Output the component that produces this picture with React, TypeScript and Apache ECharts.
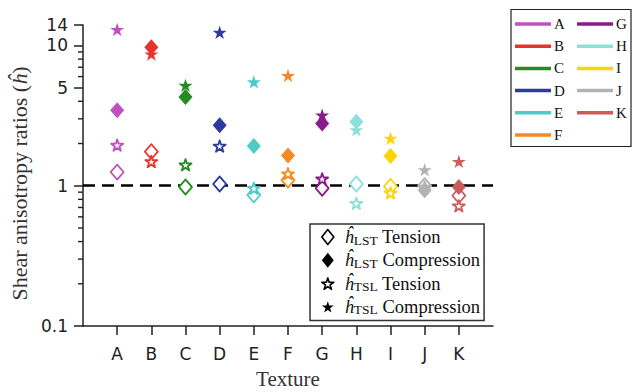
import React, { useEffect, useRef } from 'react';
import * as echarts from 'echarts';

// ---------- data ----------
const textures = ['A', 'B', 'C', 'D', 'E', 'F', 'G', 'H', 'I', 'J', 'K'];
const textureColors = ['#c04fc0', '#e8332b', '#228b22', '#2e3b9e', '#4ecbc4', '#f58a22', '#8b1b8b', '#8ddfda', '#fed400', '#b3b3b3', '#cd5b5b'];
const lstTension = [1.25, 1.75, 0.98, 1.03, 0.86, 1.1, 0.96, 1.03, 0.99, 1.0, 0.85];
const lstCompression = [3.46, 9.7, 4.3, 2.7, 1.92, 1.64, 2.78, 2.86, 1.63, 0.93, 0.98];
const tslTension = [1.95, 1.49, 1.41, 1.92, 0.96, 1.22, 1.12, 0.75, 0.89, 0.98, 0.72];
const tslCompression = [13.0, 8.7, 5.2, 12.4, 5.5, 6.1, 3.19, 2.5, 2.18, 1.3, 1.49];
const padStart = 'pad-start';
const padEnd = 'pad-end';
const xCategories = [padStart, ...textures, padEnd];
const yMin = 0.1;
const yMax = 14;
const yMajorTicks = [0.1, 1, 5, 10, 14];
const yMajorLabels = ['0.1', '1', '5', '10', '14'];
const yMinorTicks = [0.2, 0.3, 0.4, 0.5, 0.6, 0.7, 0.8, 0.9, 2, 3, 4, 6, 7, 8, 9];
const referenceValue = 1;

const SERIF = "'Liberation Serif', 'DejaVu Serif', serif";
const SANS = "'DejaVu Sans', sans-serif";
const STAR = 'path://M0,-100L-22.45,-30.9L-95.1,-30.9L-36.33,11.8L-58.8,80.9L0,38.2L58.8,80.9L36.33,11.8L95.1,-30.9L22.45,-30.9Z';

const markerTypes = [
  { name: 'LST Tension', values: lstTension, symbol: 'diamond', open: true, size: [13, 15], sub: 'LST', label: 'Tension' },
  { name: 'TSL Tension', values: tslTension, symbol: STAR, open: true, size: 12, sub: 'TSL', label: 'Tension' },
  { name: 'LST Compression', values: lstCompression, symbol: 'diamond', open: false, size: [14, 16], sub: 'LST', label: 'Compression' },
  { name: 'TSL Compression', values: tslCompression, symbol: STAR, open: false, size: 14, sub: 'TSL', label: 'Compression' },
];
const legendOrder = ['LST Tension', 'LST Compression', 'TSL Tension', 'TSL Compression'];

export default function App() {
  const ref = useRef<HTMLDivElement>(null);
  useEffect(() => {
    if (!ref.current) return;
    const chart = echarts.init(ref.current, undefined, { renderer: 'svg' });

    const dataSeries: any[] = markerTypes.map((m, si) => ({
      name: m.name,
      type: 'scatter',
      z: 10,
      symbol: m.symbol,
      symbolSize: m.size,
      symbolKeepAspect: true,
      itemStyle: m.open
        ? { color: '#fff', borderColor: '#000', borderWidth: 1.8, borderJoin: 'round', opacity: 1 }
        : { color: '#000', borderWidth: 0, opacity: 1 },
      emphasis: { disabled: true },
      data: m.values.map((v, i) => ({
        value: [textures[i], v],
        itemStyle: m.open
          ? { color: '#fff', borderColor: textureColors[i], borderWidth: 1.8, borderJoin: 'round', opacity: 1 }
          : { color: textureColors[i], opacity: 1 },
      })),
      markLine: si === 0 ? {
        silent: true,
        symbol: ['none', 'none'],
        label: { show: false },
        lineStyle: { color: '#000', type: [12, 7], width: 2.5, opacity: 1 },
        data: [{ yAxis: referenceValue }],
      } : undefined,
    }));

    const colorSeries: any[] = textures.map((t, i) => ({
      name: t,
      type: 'scatter',
      data: [],
      itemStyle: { color: textureColors[i], opacity: 1 },
    }));

    // minor y-axis ticks: short horizontal marks at the axis (first category slot), placed through the log scale
    const minorTickSeries: any = {
      name: 'y minor ticks',
      type: 'scatter',
      silent: true,
      clip: false,
      z: 20,
      symbol: 'rect',
      symbolSize: [5, 1.4],
      symbolOffset: [-2.5, 0],
      itemStyle: { color: '#222', opacity: 1 },
      emphasis: { disabled: true },
      data: yMinorTicks.map((v) => [padStart, v]),
    };

    const majorFormatter = (v: number) => {
      let best = 0;
      yMajorTicks.forEach((t, i) => {
        if (Math.abs(Math.log(t) - Math.log(v)) < Math.abs(Math.log(yMajorTicks[best]) - Math.log(v))) best = i;
      });
      return yMajorLabels[best];
    };

    const inner = (i: number) => i > 0 && i < xCategories.length - 1;

    const colorLegend = (names: string[], left: number) => ({
      show: true,
      orient: 'vertical',
      left,
      top: 15,
      padding: 0,
      itemGap: 4.2,
      itemWidth: 36,
      itemHeight: 3.5,
      icon: 'rect',
      selectedMode: false,
      data: names,
      itemStyle: { opacity: 1 },
      textStyle: { fontFamily: SERIF, fontSize: 15, lineHeight: 18, color: '#111', padding: [0, 0, 0, -2] },
    });

    const option: any = {
      animation: false,
      backgroundColor: '#fff',
      grid: { left: 83, right: 140, top: 25, bottom: 66, containLabel: false, outerBoundsMode: 'none' },
      xAxis: {
        type: 'category',
        data: xCategories,
        boundaryGap: false,
        axisLine: { onZero: false, lineStyle: { color: '#222', width: 1.5 } },
        axisTick: { show: true, length: 9, interval: inner, lineStyle: { color: '#222', width: 1.5 } },
        axisLabel: { interval: inner, margin: 19, fontFamily: SANS, fontSize: 17, color: '#222' },
        splitLine: { show: false },
        name: 'Texture',
        nameLocation: 'middle',
        nameGap: 42,
        nameTextStyle: { fontFamily: SERIF, fontSize: 21, color: '#333' },
      },
      yAxis: {
        type: 'log',
        logBase: 10,
        min: yMin,
        max: yMax,
        position: 'left',
        axisLine: { show: true, onZero: false, lineStyle: { color: '#222', width: 1.5 } },
        axisTick: { show: true, length: 9, customValues: yMajorTicks, lineStyle: { color: '#222', width: 1.5 } },
        axisLabel: { show: true, customValues: yMajorTicks, formatter: majorFormatter, margin: 15, fontFamily: SANS, fontSize: 17, color: '#222' },
        minorTick: { show: false },
        splitLine: { show: false },
        name: '{a|Shear anisotropy ratios (}{i|ĥ}{a|)}{p| }',
        nameLocation: 'middle',
        nameRotate: 90,
        nameGap: 52,
        nameTextStyle: {
          fontFamily: SERIF, fontSize: 22, color: '#333',
          rich: {
            a: { fontFamily: SERIF, fontSize: 22, color: '#333' },
            i: { fontFamily: SERIF, fontSize: 22, color: '#333', fontStyle: 'italic' },
            p: { fontFamily: SERIF, fontSize: 22, width: 16 },
          },
        },
      },
      legend: [
        {
          show: true,
          orient: 'vertical',
          left: 310,
          top: 224,
          padding: [3.5, 4, 3.5, 11],
          itemGap: 3.8,
          itemWidth: 12,
          itemHeight: 15,
          selectedMode: false,
          borderColor: '#333',
          borderWidth: 1.5,
          backgroundColor: '#fff',
          data: legendOrder.map((n) => {
            const m = markerTypes.find((x) => x.name === n)!;
            const isStar = m.symbol === STAR;
            return {
              name: n,
              icon: isStar ? STAR : 'diamond',
              itemStyle: m.open
                ? { color: '#fff', borderColor: '#000', borderWidth: 1.6, borderJoin: 'round', opacity: 1 }
                : { color: '#000', borderWidth: 0, opacity: 1 },
            };
          }),
          formatter: (name: string) => {
            const m = markerTypes.find((x) => x.name === name)!;
            return `{h|ĥ}{s|${m.sub}}{t| ${m.label}}`;
          },
          textStyle: {
            fontFamily: SERIF, fontSize: 18, color: '#111',
            rich: {
              h: { fontFamily: SERIF, fontSize: 18, lineHeight: 20, fontStyle: 'italic', color: '#111', padding: [0, 0, 0, 6] },
              s: { fontFamily: SERIF, fontSize: 13.5, lineHeight: 13, verticalAlign: 'bottom', color: '#111' },
              t: { fontFamily: SERIF, fontSize: 18.5, lineHeight: 20, color: '#111' },
            },
          },
        },
        colorLegend(textures.slice(0, 6), 515),
        colorLegend(textures.slice(6), 577),
      ],
      graphic: [
        {
          type: 'rect',
          shape: { x: 511, y: 9.5, width: 120, height: 137 },
          style: { fill: 'none', stroke: '#222', lineWidth: 1.2 },
          silent: true,
        },
      ],
      series: [...dataSeries, ...colorSeries, minorTickSeries],
    };

    chart.setOption(option);
    return () => chart.dispose();
  }, []);

  return <div ref={ref} style={{ position: 'fixed', left: 0, top: 0, width: 633, height: 392 }} />;
}
